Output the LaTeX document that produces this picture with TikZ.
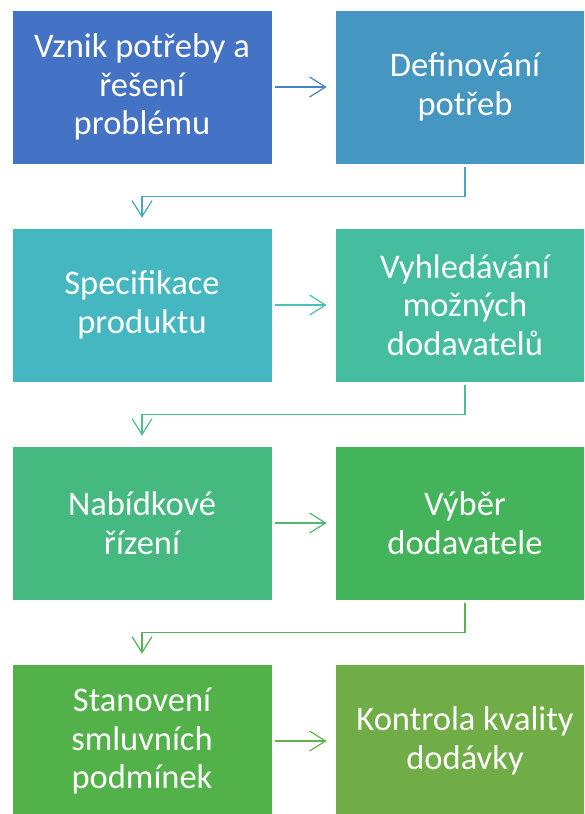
\documentclass[tikz,border=0pt]{standalone}
\usepackage{fontspec}
\setmainfont{Carlito}
\usetikzlibrary{arrows.meta}

% fill colours, blue to green
\definecolor{cA}{HTML}{4472C4}
\definecolor{cB}{HTML}{4596C1}
\definecolor{cC}{HTML}{45B7C0}
\definecolor{cD}{HTML}{44BE9E}
\definecolor{cE}{HTML}{45B980}
\definecolor{cF}{HTML}{44B45A}
\definecolor{cG}{HTML}{53B14A}
\definecolor{cH}{HTML}{70AD47}
% connector colours
\definecolor{aA}{HTML}{4A82C6}
\definecolor{aB}{HTML}{4AA4C6}
\definecolor{aC}{HTML}{4CC0B4}
\definecolor{aD}{HTML}{4CBE94}
\definecolor{aE}{HTML}{4CB870}
\definecolor{aF}{HTML}{55B454}
\definecolor{aG}{HTML}{66B050}

\tikzset{
  stepbox/.style={rectangle, draw=white, line width=0.6pt,
    minimum width=260pt, minimum height=154pt, inner sep=0pt,
    text=white, align=center,
    font=\fontsize{34.5}{38.5}\selectfont},
  link/.style={line width=1.2pt,
    -{Straight Barb[length=16pt,width=20pt,line width=1.2pt]}}
}

\begin{document}
\begin{tikzpicture}[x=1pt,y=-1pt]
\useasboundingbox (0,0) rectangle (584,814);
\clip (0,0) rectangle (584,814);

\node[stepbox, fill=cA] (b1) at (142,87)  {Vznik potřeby a\\řešení\\problému};
\node[stepbox, fill=cB] (b2) at (465,87)  {Definování\\potřeb};
\node[stepbox, fill=cC] (b3) at (142,305) {Specifikace\\produktu};
\node[stepbox, fill=cD] (b4) at (465,305) {Vyhledávání\\možných\\dodavatelů};
\node[stepbox, fill=cE] (b5) at (142,523) {Nabídkové\\řízení};
\node[stepbox, fill=cF] (b6) at (465,523) {Výběr\\dodavatele};
\node[stepbox, fill=cG] (b7) at (142,741) {Stanovení\\smluvních\\podmínek};
\node[stepbox, fill=cH] (b8) at (465,741) {Kontrola kvality\\dodávky};

\draw[link, aA] ([xshift=3pt]b1.east) -- ([xshift=-8pt]b2.west);
\draw[link, aB] ([yshift=-3pt]b2.south) -- ++(0,29) -| ([yshift=10pt]b3.north);
\draw[link, aC] ([xshift=3pt]b3.east) -- ([xshift=-8pt]b4.west);
\draw[link, aD] ([yshift=-3pt]b4.south) -- ++(0,29) -| ([yshift=10pt]b5.north);
\draw[link, aE] ([xshift=3pt]b5.east) -- ([xshift=-8pt]b6.west);
\draw[link, aF] ([yshift=-3pt]b6.south) -- ++(0,29) -| ([yshift=10pt]b7.north);
\draw[link, aG] ([xshift=3pt]b7.east) -- ([xshift=-8pt]b8.west);
\end{tikzpicture}
\end{document}
